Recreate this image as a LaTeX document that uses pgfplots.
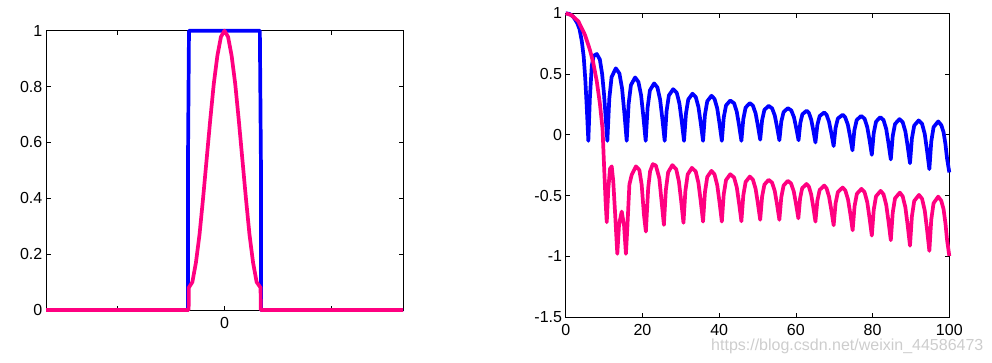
\documentclass[border=0pt]{standalone}
\usepackage{fontspec}
\setmainfont{Liberation Sans}
\usepackage{pgfplots}
\pgfplotsset{compat=1.18}
\definecolor{mblue}{RGB}{0,0,255}
\definecolor{mpink}{RGB}{255,0,128}
\definecolor{wm}{RGB}{205,205,205}
\begin{document}
\begin{tikzpicture}
\useasboundingbox (0,0) rectangle (992pt,362pt);
\pgfplotsset{mstyle/.style={scale only axis, anchor=south west,
  axis line style={line width=0.8pt, black},
  tick align=inside, major tick length=4.5pt,
  tick style={black, line width=0.6pt},
  ticklabel style={font=\fontsize{16}{18}\selectfont},
  clip=false,
  yticklabel style={inner sep=0pt, xshift=-3.5pt},
  xticklabel style={inner sep=0pt, yshift=-7.5pt},
  every axis plot/.append style={line width=3.7pt, line join=round}}}

% left panel
\begin{axis}[mstyle, at={(46pt,52pt)}, width=357pt, height=279.3pt,
  xmin=-50, xmax=50, ymin=0, ymax=1,
  xtick={-30,0,30}, xticklabels={,0,},
  ytick={0,0.2,0.4,0.6,0.8,1}, yticklabels={0,0.2,0.4,0.6,0.8,1}]
\addplot[mblue] coordinates {(-50,0) (-10.25,0) (-10.25,0.5) (-9.95,1) (9.9,1) (10.22,0.5) (10.22,0) (50,0)};
\addplot[mpink] coordinates {(-50,0) (-10.05,0) (-10.0,0.08) (-9,0.10) (-8,0.17) (-7,0.27) (-6,0.40) (-5,0.54) (-4,0.68) (-3,0.81) (-2,0.91) (-1,0.978) (0,1) (1,0.978) (2,0.91) (3,0.81) (4,0.68) (5,0.54) (6,0.40) (7,0.27) (8,0.17) (9,0.10) (10.1,0.08) (10.15,0) (50,0)};
\end{axis}

% right panel
\begin{axis}[mstyle, at={(565.7pt,45pt)}, width=383.6pt, height=303.7pt,
  xmin=0, xmax=100, ymin=-1.5, ymax=1,
  xtick={0,20,40,60,80,100}, xticklabels={0,20,40,60,80,100},
  ytick={-1.5,-1,-0.5,0,0.5,1}, yticklabels={-1.5,-1,-0.5,0,0.5,1}]
\addplot[mblue] coordinates {
(0,1.0) (1,0.995) (2,0.97) (3,0.92) (3.6,0.87) (4.2,0.77) (4.7,0.64) (5.1,0.46) (5.5,0.22) (5.9,-0.05)
(6.3,0.30) (6.8,0.57) (7.3,0.65) (8.1,0.665) (8.9,0.62) (9.5,0.50) (10.0,0.33) (10.4,0.15) (10.86,-0.05)
(11.36,0.296) (11.96,0.475) (13.06,0.547) (14.0,0.505) (14.7,0.380) (15.3,0.177) (15.9,-0.05)
(16.4,0.253) (17.0,0.409) (18.1,0.472) (18.95,0.435) (19.65,0.326) (20.25,0.148) (20.85,-0.05)
(21.35,0.224) (21.95,0.366) (23.05,0.423) (23.9,0.390) (24.6,0.291) (25.2,0.130) (25.8,-0.05)
(26.3,0.196) (26.9,0.324) (28.0,0.375) (28.95,0.345) (29.65,0.256) (30.25,0.111) (30.84,-0.05)
(31.35,0.175) (31.95,0.291) (33.05,0.338) (33.9,0.311) (34.6,0.229) (35.2,0.097) (35.8,-0.05)
(36.3,0.165) (36.9,0.276) (38.0,0.321) (38.8,0.295) (39.5,0.217) (40.1,0.091) (40.7,-0.05)
(41.2,0.143) (41.8,0.242) (42.9,0.282) (43.9,0.259) (44.6,0.189) (45.2,0.076) (45.8,-0.05)
(46.3,0.130) (46.9,0.224) (48.0,0.261) (48.8,0.240) (49.5,0.177) (50.1,0.074) (50.7,-0.04)
(51.2,0.121) (51.8,0.205) (52.9,0.238) (53.8,0.218) (54.5,0.159) (55.1,0.063) (55.7,-0.045)
(56.2,0.108) (56.8,0.187) (57.9,0.219) (58.8,0.201) (59.5,0.145) (60.1,0.055) (60.7,-0.045)
(61.15,0.096) (61.7,0.169) (62.8,0.198) (63.4,0.180) (64.0,0.125) (64.55,0.036) (65.1,-0.063)
(65.6,0.080) (66.2,0.154) (67.4,0.184) (68.0,0.165) (68.65,0.106) (69.25,0.012) (69.85,-0.093)
(70.35,0.057) (70.95,0.134) (72.2,0.165) (72.85,0.144) (73.55,0.083) (74.15,-0.017) (74.75,-0.128)
(75.25,0.036) (75.85,0.121) (77.0,0.155) (77.9,0.133) (78.6,0.065) (79.2,-0.043) (79.8,-0.165)
(80.3,0.015) (80.9,0.108) (82.0,0.145) (82.85,0.121) (83.55,0.048) (84.15,-0.071) (84.75,-0.203)
(85.25,-0.010) (85.85,0.089) (87.0,0.129) (87.85,0.104) (88.55,0.027) (89.15,-0.096) (89.75,-0.234)
(90.25,-0.030) (90.85,0.076) (92.0,0.118) (92.9,0.090) (93.6,0.006) (94.2,-0.131) (94.8,-0.283)
(95.3,-0.055) (95.9,0.063) (97.1,0.110) (97.9,0.080) (98.5,0.022) (99.0,-0.079) (99.4,-0.192) (100,-0.31)
};
\addplot[mpink] coordinates {
(0,1.0) (1.5,0.985) (3.3,0.934) (5.0,0.824) (6.3,0.70) (7.2,0.59) (8.1,0.44) (8.9,0.26) (9.6,0.05) (10.1,-0.33) (10.4,-0.55) (10.7,-0.72)
(11.1,-0.45) (11.55,-0.28) (12.0,-0.26) (12.4,-0.385) (12.85,-0.632) (13.45,-0.98) (13.9,-0.742) (14.6,-0.632) (15.2,-0.742) (15.7,-0.98)
(16.06,-0.77) (16.6,-0.41) (17.2,-0.33) (18.3,-0.26) (19.2,-0.29) (19.8,-0.41) (20.4,-0.66) (20.9,-0.797)
(21.5,-0.44) (22.0,-0.30) (22.7,-0.242) (23.5,-0.253) (24.4,-0.358) (25.0,-0.55) (25.6,-0.742)
(26.1,-0.458) (26.7,-0.309) (27.8,-0.25) (28.8,-0.283) (29.5,-0.383) (30.1,-0.545) (30.7,-0.725)
(31.2,-0.462) (31.8,-0.326) (32.9,-0.272) (33.9,-0.303) (34.6,-0.396) (35.2,-0.547) (35.8,-0.715)
(36.3,-0.473) (36.9,-0.347) (38.0,-0.297) (38.8,-0.326) (39.5,-0.414) (40.1,-0.556) (40.7,-0.715)
(41.2,-0.489) (41.8,-0.372) (42.9,-0.325) (43.9,-0.352) (44.6,-0.433) (45.2,-0.565) (45.8,-0.712)
(46.3,-0.499) (46.9,-0.388) (48.0,-0.344) (48.8,-0.369) (49.5,-0.444) (50.1,-0.565) (50.7,-0.70)
(51.2,-0.509) (51.8,-0.410) (52.9,-0.371) (53.8,-0.394) (54.5,-0.463) (55.1,-0.575) (55.7,-0.70)
(56.2,-0.514) (56.8,-0.418) (57.9,-0.379) (58.75,-0.401) (59.45,-0.466) (60.05,-0.571) (60.65,-0.688)
(61.1,-0.524) (61.65,-0.439) (62.8,-0.405) (63.4,-0.427) (64.0,-0.492) (64.55,-0.597) (65.1,-0.715)
(65.6,-0.543) (66.2,-0.454) (67.4,-0.418) (68.0,-0.441) (68.65,-0.510) (69.25,-0.621) (69.85,-0.745)
(70.35,-0.565) (70.95,-0.471) (72.2,-0.434) (72.9,-0.459) (73.6,-0.533) (74.2,-0.652) (74.8,-0.786)
(75.3,-0.588) (75.9,-0.486) (77.1,-0.445) (77.9,-0.472) (78.6,-0.553) (79.2,-0.684) (79.8,-0.83)
(80.3,-0.617) (80.9,-0.506) (82.1,-0.462) (82.85,-0.490) (83.55,-0.576) (84.15,-0.714) (84.75,-0.868)
(85.25,-0.641) (85.85,-0.523) (87.1,-0.476) (87.85,-0.507) (88.55,-0.598) (89.15,-0.747) (89.75,-0.913)
(90.25,-0.671) (90.85,-0.545) (92.1,-0.495) (92.9,-0.527) (93.6,-0.624) (94.2,-0.781) (94.8,-0.956)
(95.3,-0.697) (95.9,-0.563) (97.1,-0.509) (97.9,-0.543) (98.5,-0.612) (99.0,-0.730) (99.4,-0.862) (100,-0.998)
};
\end{axis}
\node[anchor=base west, text=wm, font=\fontsize{16}{18}\selectfont, inner sep=0pt] at (711pt,12pt) {https://blog.csdn.net/weixin\_44586473};
\end{tikzpicture}
\end{document}
